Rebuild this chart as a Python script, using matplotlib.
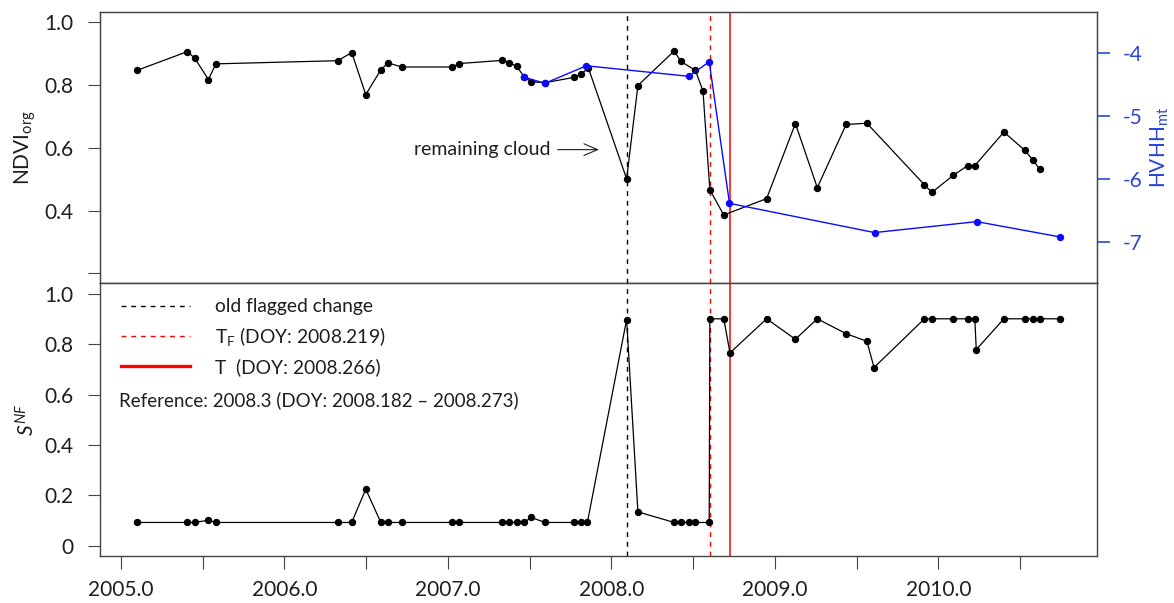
import numpy as np
import matplotlib.pyplot as plt
from matplotlib.lines import Line2D

plt.rcParams['font.family'] = ['Lato', 'DejaVu Sans']
plt.rcParams['mathtext.fontset'] = 'custom'
plt.rcParams['mathtext.rm'] = 'Lato'
plt.rcParams['mathtext.it'] = 'Lato:italic'
plt.rcParams['mathtext.bf'] = 'Lato:bold'

# NDVI (original) time series
ndvi_t = [2005.098, 2005.407, 2005.452, 2005.536, 2005.581, 2006.327, 2006.412,
          2006.498, 2006.590, 2006.634, 2006.718, 2007.027, 2007.070, 2007.333,
          2007.376, 2007.421, 2007.466, 2007.510, 2007.594, 2007.772, 2007.814,
          2007.859, 2008.093, 2008.162, 2008.384, 2008.424, 2008.514, 2008.560,
          2008.602, 2008.687, 2008.949, 2009.125, 2009.259, 2009.435, 2009.562,
          2009.914, 2009.960, 2010.090, 2010.178, 2010.222, 2010.400, 2010.527,
          2010.576, 2010.618]
ndvi = [0.846, 0.906, 0.885, 0.817, 0.867, 0.877, 0.903, 0.769, 0.848, 0.870,
        0.857, 0.857, 0.868, 0.878, 0.871, 0.859, 0.826, 0.810, 0.807, 0.824,
        0.834, 0.854, 0.501, 0.798, 0.908, 0.875, 0.846, 0.780, 0.466, 0.386,
        0.438, 0.677, 0.473, 0.674, 0.678, 0.482, 0.458, 0.512, 0.543, 0.543,
        0.650, 0.592, 0.562, 0.532]

# HV/HH multi-temporal ratio
hvhh_t = [2007.466, 2007.594, 2007.847, 2008.472, 2008.598, 2008.722,
          2009.609, 2010.234, 2010.740]
hvhh = [-4.379, -4.474, -4.196, -4.363, -4.133, -6.385, -6.850, -6.676, -6.918]

# S^NF
snf_t = [2005.098, 2005.407, 2005.452, 2005.536, 2005.581, 2006.327, 2006.412,
         2006.498, 2006.590, 2006.634, 2006.718, 2007.027, 2007.070, 2007.333,
         2007.376, 2007.421, 2007.466, 2007.510, 2007.594, 2007.772, 2007.814,
         2007.853, 2008.093, 2008.162, 2008.384, 2008.424, 2008.472, 2008.514,
         2008.598, 2008.602, 2008.687, 2008.725, 2008.949, 2009.125, 2009.259,
         2009.435, 2009.562, 2009.606, 2009.914, 2009.960, 2010.090, 2010.178,
         2010.222, 2010.231, 2010.400, 2010.527, 2010.576, 2010.618, 2010.740]
snf = [0.093, 0.093, 0.093, 0.102, 0.093, 0.093, 0.093, 0.225, 0.093, 0.093,
       0.093, 0.093, 0.093, 0.093, 0.093, 0.093, 0.093, 0.113, 0.093, 0.093,
       0.093, 0.093, 0.897, 0.135, 0.093, 0.093, 0.093, 0.093, 0.093, 0.900,
       0.900, 0.765, 0.900, 0.819, 0.900, 0.841, 0.811, 0.707, 0.900, 0.900,
       0.900, 0.900, 0.900, 0.778, 0.900, 0.900, 0.900, 0.900, 0.900]

old_change = 2008.093
t_f = 2008.600      # DOY 2008.219
t_brk = 2008.727    # DOY 2008.266

xticks = np.arange(2005.0, 2010.6, 0.5)
xlabels = ['%.1f' % v if v % 1 == 0 else '' for v in xticks]

txt = '#1e1e1e'
frame = '#444444'
blue_txt = '#2b46d6'
fs = 15

fig = plt.figure(figsize=(11.74, 6.03), dpi=100)
ax1 = fig.add_axes([0.0852, 0.5299, 0.8489, 0.4502])
ax2 = fig.add_axes([0.0852, 0.0779, 0.8489, 0.4520])

for ax in (ax1, ax2):
    ax.set_xlim(2004.873, 2010.967)
    for s in ax.spines.values():
        s.set_color(frame)
        s.set_linewidth(1.0)
    ax.axvline(old_change, color='black', lw=1.0, ls=(0, (3.5, 3.5)))
    ax.axvline(t_f, color='red', lw=1.0, ls=(0, (3.5, 3.5)))
    ax.axvline(t_brk, color='red', lw=1.1)
    ax.tick_params(direction='out', length=9, width=0.8, color=frame,
                   labelsize=fs, labelcolor=txt)

# top panel
ax1.plot(ndvi_t, ndvi, color='black', lw=0.9, marker='o', ms=4.3, zorder=3)
ax1.set_ylim(0.168, 1.032)
ax1.set_yticks([0.2, 0.4, 0.6, 0.8, 1.0])
ax1.set_yticklabels(['', '0.4', '0.6', '0.8', '1.0'])
ax1.tick_params(axis='y', pad=10)
ax1.set_xticks([])
ax1.set_ylabel(r'NDVI$_{\mathrm{org}}$', fontsize=fs, color=txt, labelpad=5)
ax1.annotate('remaining cloud', xy=(2007.924, 0.594), xytext=(2007.629, 0.594),
             ha='right', va='center', fontsize=14, color=txt,
             arrowprops=dict(arrowstyle='->,head_length=0.7,head_width=0.3',
                             lw=0.8, color=txt, shrinkA=3, shrinkB=0))

axr = ax1.twinx()
axr.set_xlim(ax1.get_xlim())
axr.plot(hvhh_t, hvhh, color='#0a0aff', lw=1.0, marker='o', ms=4.3, zorder=4)
axr.set_ylim(-7.66, -3.34)
axr.set_yticks([-4, -5, -6, -7])
axr.set_yticklabels(['-4', '-5', '-6', '-7'])
axr.tick_params(axis='y', direction='out', length=9, width=1.2, color='#2b46d6',
                labelsize=fs, labelcolor=blue_txt, pad=10)
for s in axr.spines.values():
    s.set_color(frame)
axr.set_ylabel(r'HVHH$_{\mathrm{mt}}$', fontsize=fs, color=blue_txt, labelpad=4)

# bottom panel
ax2.plot(snf_t, snf, color='black', lw=0.9, marker='o', ms=4.3, zorder=3)
ax2.set_ylim(-0.04, 1.04)
ax2.set_yticks([0, 0.2, 0.4, 0.6, 0.8, 1.0])
ax2.set_yticklabels(['0', '0.2', '0.4', '0.6', '0.8', '1.0'])
ax2.tick_params(axis='y', pad=10)
ax2.set_xticks(xticks)
ax2.set_xticklabels(xlabels)
ax2.tick_params(axis='x', pad=8)
ax2.set_ylabel(r'$S^{NF}$', fontsize=fs, color=txt, labelpad=4)

handles = [Line2D([], [], color='black', lw=1.0, ls=(0, (3.5, 3.5))),
           Line2D([], [], color='red', lw=1.0, ls=(0, (3.5, 3.5))),
           Line2D([], [], color='red', lw=2.4)]
labels = ['old flagged change', r'T$_{\mathrm{F}}$ (DOY: 2008.219)',
          'T  (DOY: 2008.266)']
ax2.legend(handles, labels, loc='upper left', bbox_to_anchor=(0.0208, 0.945),
           frameon=False, fontsize=13.9, handlelength=3.6, handletextpad=1.3,
           labelspacing=0.5, borderpad=0, borderaxespad=0, labelcolor=txt)
ax2.text(0.0194, 0.572, 'Reference: 2008.3 (DOY: 2008.182 \u2013 2008.273)',
         transform=ax2.transAxes, ha='left', va='center', fontsize=13.5, color=txt)

fig.savefig('out.png', dpi=100)
